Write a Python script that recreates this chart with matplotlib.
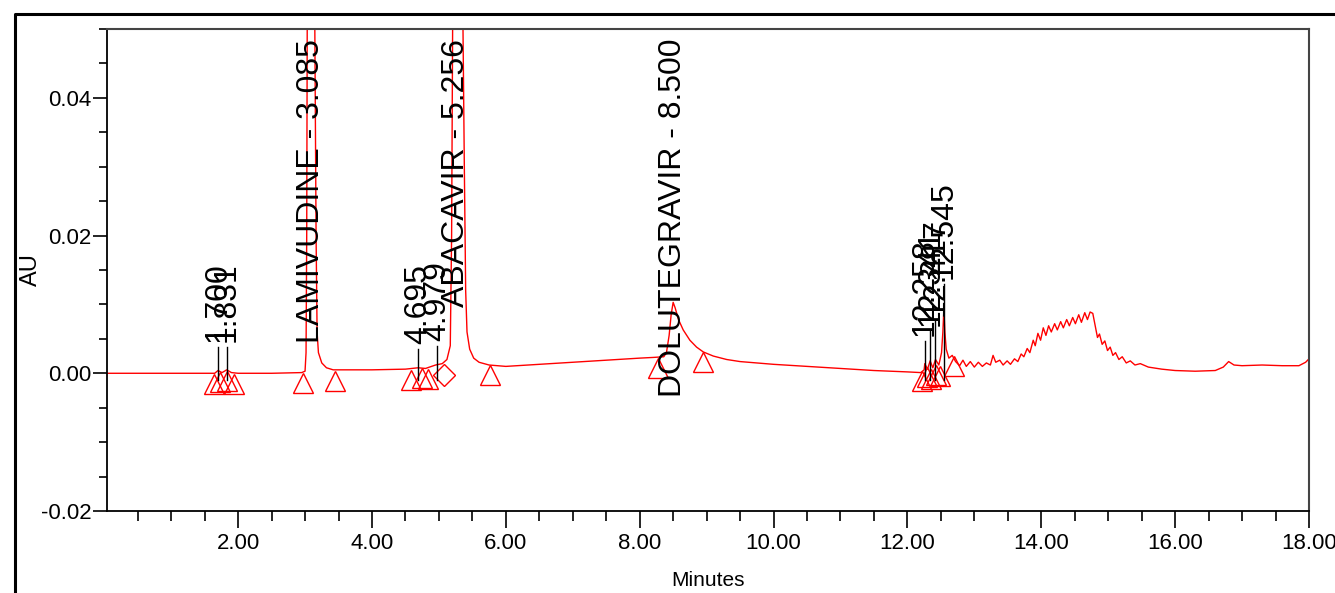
import matplotlib
matplotlib.use("Agg")
import matplotlib.pyplot as plt
import matplotlib.transforms as mtransforms
from matplotlib.lines import Line2D
from matplotlib.ticker import MultipleLocator, FixedLocator, FuncFormatter

# --------------------------------------------------
# chromatogram trace (minutes, AU)
# --------------------------------------------------
trace_t = [0.04, 1.0, 1.60, 1.65, 1.70, 1.76, 1.83, 1.90, 2.00, 2.50, 2.95,
           3.00, 3.015, 3.025, 3.035, 3.085, 3.14, 3.165, 3.18, 3.20, 3.25, 3.32, 3.42,
           4.00, 4.50, 4.69, 4.80, 4.95, 5.05, 5.12, 5.17, 5.19, 5.21, 5.256, 5.30,
           5.36, 5.38, 5.40, 5.42, 5.46, 5.52, 5.60, 5.75,
           6.00, 6.50, 7.00, 7.50, 8.00, 8.20, 8.36, 8.40, 8.44, 8.47, 8.50, 8.53,
           8.58, 8.65, 8.75, 8.85, 8.95, 9.10, 9.30, 9.50, 10.0, 10.5, 11.0, 11.5,
           12.0, 12.20, 12.25, 12.26, 12.30, 12.34, 12.38, 12.42, 12.47, 12.51,
           12.53, 12.545, 12.56, 12.58, 12.62, 12.67, 12.72,
           12.78, 12.83, 12.88, 12.94, 13.00, 13.06, 13.12, 13.18, 13.24, 13.28,
           13.32, 13.38, 13.43, 13.49, 13.54, 13.60, 13.65, 13.70, 13.74, 13.79,
           13.83, 13.88, 13.91, 13.95, 13.99, 14.03, 14.07, 14.11, 14.15, 14.20,
           14.24, 14.29, 14.33, 14.38, 14.42, 14.47, 14.51, 14.56, 14.60, 14.65,
           14.69, 14.73, 14.77, 14.80, 14.84, 14.87, 14.91, 14.95, 14.99, 15.03,
           15.07, 15.11, 15.16, 15.21, 15.27, 15.33, 15.40, 15.48, 15.60, 15.80,
           16.00, 16.30, 16.60, 16.72, 16.80, 16.88, 17.00, 17.30, 17.60, 17.85,
           17.95, 18.0]
trace_au = [0.0, 0.0, 0.0, 0.0, 0.0004, 0.0001, 0.0005, 0.0001, 0.0, 0.0, 0.0001,
            0.0003, 0.003, 0.02, 0.06, 0.15, 0.06, 0.02, 0.006, 0.003, 0.0015, 0.0008, 0.0005,
            0.0005, 0.0006, 0.0008, 0.0007, 0.0012, 0.0014, 0.002, 0.004, 0.02, 0.06, 0.15, 0.09,
            0.05, 0.03, 0.012, 0.006, 0.0035, 0.0022, 0.0016, 0.0012,
            0.0010, 0.0013, 0.0016, 0.0019, 0.0022, 0.0023, 0.0024, 0.0030, 0.0055, 0.0085, 0.0103, 0.0095,
            0.0078, 0.0063, 0.0048, 0.0038, 0.0031, 0.0025, 0.0020, 0.0017, 0.0013, 0.0010, 0.0007, 0.0004,
            0.0002, 0.0001, 0.0005, 0.0014, 0.0006, 0.0018, 0.0008, 0.0020, 0.0012, 0.0030,
            0.0060, 0.0093, 0.0060, 0.0035, 0.0022, 0.0026, 0.0017,
            0.0011, 0.0019, 0.0010, 0.0017, 0.0009, 0.0016, 0.0010, 0.0015, 0.0012, 0.0026,
            0.0016, 0.0019, 0.0012, 0.0018, 0.0013, 0.0021, 0.0017, 0.0028, 0.0024, 0.0036,
            0.0030, 0.0048, 0.0040, 0.0058, 0.0048, 0.0066, 0.0055, 0.0069, 0.0060, 0.0072,
            0.0063, 0.0075, 0.0066, 0.0078, 0.0069, 0.0081, 0.0072, 0.0085, 0.0074, 0.0088,
            0.0078, 0.0089, 0.0087, 0.0072, 0.0052, 0.0057, 0.0042, 0.0047, 0.0033, 0.0038,
            0.0026, 0.0030, 0.0020, 0.0024, 0.0015, 0.0018, 0.0012, 0.0014, 0.0009, 0.0006,
            0.0004, 0.0003, 0.0004, 0.0009, 0.0017, 0.0012, 0.0011, 0.0012, 0.0011, 0.0011,
            0.0016, 0.0021]

# integration marks (start/end of peaks)
tri_t = [1.64, 1.73, 1.84, 1.94, 2.97, 3.45, 4.59, 4.75, 4.83, 5.77, 8.27, 8.95,
         12.22, 12.29, 12.36, 12.42, 12.49, 12.69]
tri_au = [0.0, 0.0003, 0.0004, 0.0, 0.0001, 0.0004, 0.0006, 0.0008, 0.0007, 0.0013,
          0.0023, 0.0032, 0.0004, 0.0009, 0.0007, 0.0013, 0.0011, 0.0025]
dia_t = [5.07]
dia_au = [0.0013]

# named peaks
named_rt = [3.085, 5.256, 8.500]
named_lbl = ["LAMIVUDINE - 3.085", "ABACAVIR - 5.256", "DOLUTEGRAVIR - 8.500"]

# unnamed peaks
small_rt = [1.700, 1.831, 4.695, 4.979, 12.258, 12.341, 12.417, 12.545]
small_h = [0.0009, 0.0009, 0.0006, 0.0011, 0.0018, 0.0032, 0.0047, 0.0101]

xt_major = [2, 4, 6, 8, 10, 12, 14, 16, 18]
yt_major = [-0.02, 0.0, 0.02, 0.04]

narrow = ["Liberation Sans Narrow", "Liberation Sans", "DejaVu Sans"]
peak_font = ["Liberation Sans", "DejaVu Sans"]

fig = plt.figure(figsize=(13.35, 5.93), dpi=100)
ax = fig.add_axes([0.0801, 0.1383, 0.9004, 0.8128])

ax.plot(trace_t, trace_au, color="#ff0000", lw=1.0)

tri_trans = mtransforms.offset_copy(ax.transData, fig=fig, y=-7.5, units="points")
ax.plot(tri_t, tri_au, ls="none", marker="^", ms=15, mfc="none", mec="#ff0000",
        mew=1.0, transform=tri_trans, clip_on=False)
ax.plot(dia_t, dia_au, ls="none", marker="D", ms=11, mfc="none", mec="#ff0000",
        mew=1.0, transform=tri_trans, clip_on=False)

# labels
for rt, lbl in zip(named_rt, named_lbl):
    ax.text(rt, 0.0486, lbl, rotation=90, ha="center", va="top",
            fontsize=23, family=peak_font, color="black")

for rt, h in zip(small_rt, small_h):
    ax.text(rt, h + 0.0036, f"{rt:.3f}", rotation=90, ha="center", va="bottom",
            fontsize=23, family=peak_font, color="black")
    ax.plot([rt, rt], [-0.001, h + 0.0029], color="black", lw=1.0)

ax.set_xlim(0.04, 18.0)
ax.set_ylim(-0.02, 0.05)

ax.xaxis.set_major_locator(FixedLocator(xt_major))
ax.xaxis.set_minor_locator(MultipleLocator(0.5))
ax.xaxis.set_major_formatter(FuncFormatter(lambda v, p: f"{v:.2f}"))
ax.yaxis.set_major_locator(FixedLocator(yt_major))
ax.yaxis.set_minor_locator(MultipleLocator(0.005))
ax.yaxis.set_major_formatter(FuncFormatter(lambda v, p: f"{v:.2f}"))

ax.tick_params(axis="x", which="major", length=12, width=1.2, pad=4)
ax.tick_params(axis="x", which="minor", length=7, width=1.2)
ax.tick_params(axis="y", which="major", length=10, width=1.2, pad=1)
ax.tick_params(axis="y", which="minor", length=6, width=1.2)
for lab in ax.get_xticklabels() + ax.get_yticklabels():
    lab.set_family(narrow)
    lab.set_fontsize(16)

for side in ["left", "bottom"]:
    ax.spines[side].set_linewidth(1.3)
for side in ["top", "right"]:
    ax.spines[side].set_linewidth(1.5)
    ax.spines[side].set_color("#444444")

ax.set_ylabel("AU", family=narrow, fontsize=17)
ax.yaxis.set_label_coords(-0.054, 0.5)
ax.set_xlabel("Minutes", family=narrow, fontsize=15)
ax.xaxis.set_label_coords(0.5, -0.124)

# outer frame
fig.add_artist(Line2D([15 / 1335, 15 / 1335, 1.0], [0.0, 1 - 14 / 593, 1 - 14 / 593],
                      transform=fig.transFigure, color="black", lw=2.2))

fig.savefig("out.png", dpi=100)
